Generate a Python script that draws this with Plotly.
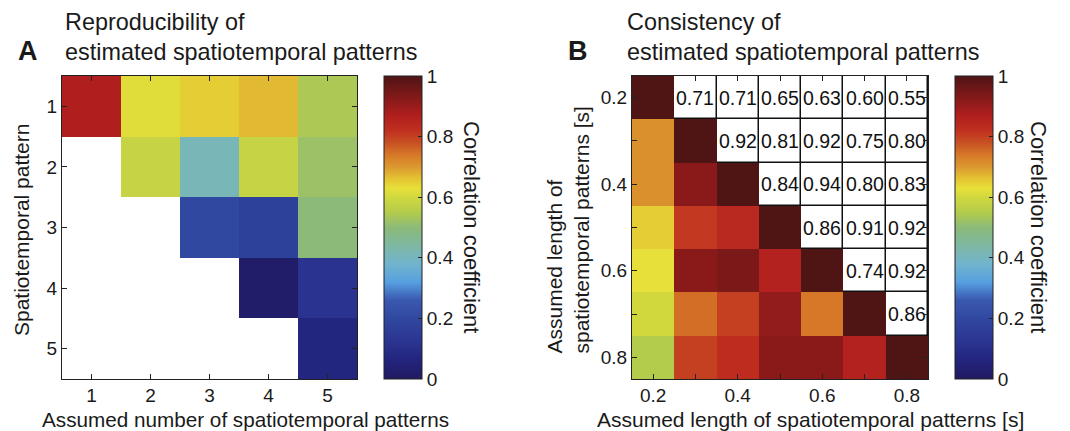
import plotly.graph_objects as go

W, H = 1070, 431

# ---------------- data ----------------
a_cols = [1, 2, 3, 4, 5]
a_rows = [1, 2, 3, 4, 5]
a_vals = [
    [0.87, 0.62, 0.65, 0.67, 0.54],
    [None, 0.58, 0.41, 0.58, 0.52],
    [None, None, 0.20, 0.17, 0.50],
    [None, None, None, 0.02, 0.12],
    [None, None, None, None, 0.07],
]

b_len = [0.2, 0.3, 0.4, 0.5, 0.6, 0.7, 0.8]
b_matrix = [
    [1.00, 0.71, 0.71, 0.65, 0.63, 0.60, 0.55],
    [0.71, 1.00, 0.92, 0.81, 0.92, 0.75, 0.80],
    [0.71, 0.92, 1.00, 0.84, 0.94, 0.80, 0.83],
    [0.65, 0.81, 0.84, 1.00, 0.86, 0.91, 0.92],
    [0.63, 0.92, 0.94, 0.86, 1.00, 0.74, 0.92],
    [0.60, 0.75, 0.80, 0.91, 0.74, 1.00, 0.86],
    [0.55, 0.80, 0.83, 0.92, 0.92, 0.86, 1.00],
]
b_tickvals = [0.2, 0.3, 0.4, 0.5, 0.6, 0.7, 0.8]
b_ticktext = ["0.2", "", "0.4", "", "0.6", "", "0.8"]
cb_tickvals = [0, 0.2, 0.4, 0.6, 0.8, 1]
cb_ticktext = ["0", "0.2", "0.4", "0.6", "0.8", "1"]

n = len(b_len)
b_lower = [[b_matrix[i][j] if j <= i else None for j in range(n)] for i in range(n)]
b_upper = [[b_matrix[i][j] if j > i else None for j in range(n)] for i in range(n)]
b_text = [["%.2f" % b_matrix[i][j] if j > i else "" for j in range(n)] for i in range(n)]

# muted jet-like colormap
cscale = [
    [0.00, "#201a60"], [0.06, "#22237c"], [0.12, "#2a3490"], [0.20, "#3148a0"],
    [0.26, "#3a58b0"], [0.32, "#56a0e0"], [0.38, "#72b4cc"], [0.45, "#80b89c"],
    [0.50, "#8cba78"], [0.55, "#b4cc4c"], [0.60, "#d0d83e"], [0.63, "#e8e03a"],
    [0.66, "#e4c432"], [0.70, "#dc9830"], [0.74, "#d67828"], [0.78, "#c85024"],
    [0.82, "#c0301f"], [0.87, "#b01e1e"], [0.92, "#8a1a1a"], [1.00, "#4f1414"],
]

FONT = "Liberation Sans, Arial, sans-serif"
TXT = "#1a1a1a"


def px(x):
    return x / W


def py(y):
    return 1 - y / H


# plot-area geometry (pixels)
AX0, AX1 = 62, 357
BX0, BX1 = 632, 928
Y0, Y1 = 76, 379

cbar_common = dict(
    xanchor="left", xpad=0, ypad=0,
    y=py((Y0 + Y1) / 2), yanchor="middle",
    lenmode="pixels", len=Y1 - Y0, thicknessmode="pixels", thickness=38,
    outlinecolor="#222", outlinewidth=1,
    tickvals=cb_tickvals, ticktext=cb_ticktext, ticks="inside", ticklen=4,
    tickcolor="#222", tickfont=dict(size=19, family=FONT, color=TXT),
)

fig = go.Figure()

fig.add_trace(go.Heatmap(
    x=a_cols, y=a_rows, z=a_vals, colorscale=cscale, zmin=0, zmax=1,
    xaxis="x", yaxis="y", hoverongaps=False,
    colorbar=dict(x=px(384), **cbar_common),
))

fig.add_trace(go.Heatmap(
    x=b_len, y=b_len, z=b_lower, colorscale=cscale, zmin=0, zmax=1,
    xaxis="x2", yaxis="y2", hoverongaps=False,
    colorbar=dict(x=px(955), **cbar_common),
))

fig.add_trace(go.Heatmap(
    x=b_len, y=b_len, z=b_upper, text=b_text, texttemplate="%{text}",
    textfont=dict(size=19.5, family=FONT, color="#111"),
    colorscale=[[0, "white"], [1, "white"]], showscale=False,
    xgap=1.5, ygap=1.5, xaxis="x2", yaxis="y2", hoverongaps=False,
))

axis_common = dict(
    showgrid=False, zeroline=False, showline=True, linecolor="#222", linewidth=1,
    mirror="ticks", ticks="inside", ticklen=5, tickcolor="#222",
    tickfont=dict(size=19, family=FONT, color=TXT),
)

fig.update_layout(
    width=W, height=H, margin=dict(l=0, r=0, t=0, b=0),
    paper_bgcolor="white", plot_bgcolor="white", showlegend=False,
    xaxis=dict(domain=[px(AX0), px(AX1)], range=[0.5, 5.5], tickvals=a_cols,
               anchor="y", ticklabelstandoff=-1, **axis_common),
    yaxis=dict(domain=[py(Y1), py(Y0)], range=[5.5, 0.5], tickvals=a_rows,
               anchor="x", **axis_common),
    xaxis2=dict(domain=[px(BX0), px(BX1)], range=[0.15, 0.85], tickvals=b_tickvals,
                ticktext=b_ticktext, anchor="y2", ticklabelstandoff=-1, **axis_common),
    yaxis2=dict(domain=[py(Y1), py(Y0)], range=[0.85, 0.15], tickvals=b_tickvals,
                ticktext=b_ticktext, anchor="x2", **axis_common),
    shapes=[dict(type="rect", xref="x2 domain", yref="y2 domain", x0=0, x1=1,
                 y0=0, y1=1, fillcolor="#111", line=dict(width=0), layer="below")],
)


def ann(text, x, y, size, xanchor="center", yanchor="middle", angle=0, bold=False,
        align="center"):
    fig.add_annotation(
        text=("<b>%s</b>" % text) if bold else text, x=px(x), y=py(y),
        xref="paper", yref="paper", xanchor=xanchor, yanchor=yanchor,
        textangle=angle, showarrow=False, align=align,
        font=dict(size=size, family=FONT, color=TXT),
    )


# panel letters and titles
ann("A", 16, 51, 27, xanchor="left", bold=True)
ann("B", 566, 51, 27, xanchor="left", bold=True)
ann("Reproducibility of<br>estimated spatiotemporal patterns", 63, 37, 23.4,
    xanchor="left", align="left")
ann("Consistency of<br>estimated spatiotemporal patterns", 625, 37, 23.4,
    xanchor="left", align="left")

# axis titles
ann("Assumed number of spatiotemporal patterns", 245, 419, 20.7)
ann("Spatiotemporal pattern", 22, 230, 21, angle=-90)
ann("Assumed length of spatiotemporal patterns [s]", 810, 419, 21)
ann("Assumed length of<br>spatiotemporal patterns [s]", 567, 356, 21, angle=-90,
    yanchor="bottom", align="left")

# colorbar titles
ann("Correlation coefficient", 471, 227, 22, angle=90)
ann("Correlation coefficient", 1038, 227, 22, angle=90)

fig.write_html("out.html")
